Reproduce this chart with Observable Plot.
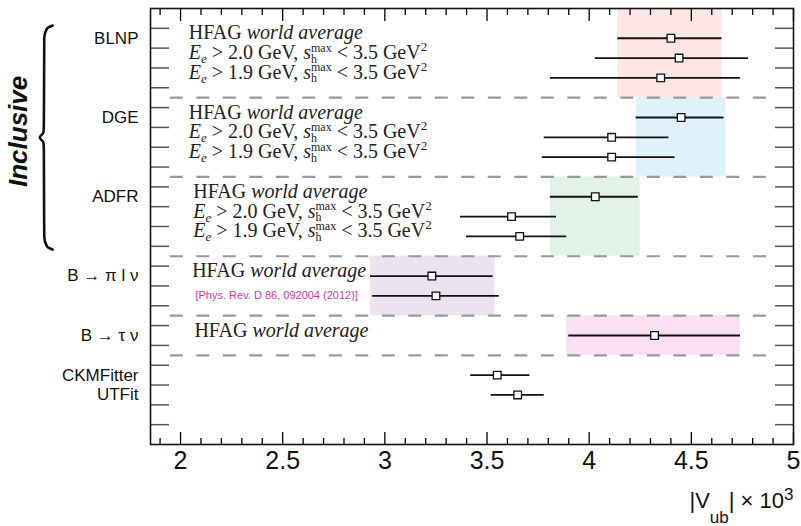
<!DOCTYPE html>
<html><head><meta charset="utf-8">
<script src="https://cdn.jsdelivr.net/npm/d3@7"></script>
<script src="https://cdn.jsdelivr.net/npm/@observablehq/plot@0.6"></script>
<style>
body{margin:0;background:#fff;}
svg text{white-space:pre;}
</style>
</head><body><div id="chart"></div>
<script>
// ---- categories (left labels) ----
const categories = ["BLNP", "DGE", "ADFR", "B → π l ν", "B → τ ν", "CKMFitter", "UTFit"];
const categoryRows = [1.5, 5.5, 9.5, 13.5, 16.5, 18.5, 19.5];

// ---- measurements: |Vub| x 10^3 ----
const measRows    = [1.5, 2.5, 3.5, 5.5, 6.5, 7.5, 9.5, 10.5, 11.5, 13.5, 14.5, 16.5, 18.5, 19.5];
const measCentral = [4.40, 4.44, 4.35, 4.45, 4.11, 4.11, 4.03, 3.62, 3.66, 3.23, 3.25, 4.32, 3.55, 3.65];
const measLow     = [4.14, 4.03, 3.81, 4.23, 3.78, 3.77, 3.81, 3.37, 3.40, 2.93, 2.94, 3.90, 3.42, 3.52];
const measHigh    = [4.65, 4.78, 4.74, 4.66, 4.39, 4.42, 4.24, 3.84, 3.89, 3.53, 3.56, 4.74, 3.71, 3.78];

// ---- world-average bands ----
const bandLow    = [4.14, 4.23, 3.81, 2.93, 3.89];
const bandHigh   = [4.65, 4.67, 4.25, 3.54, 4.74];
const bandTop    = [0, 4.5, 8.5, 12.5, 15.5];
const bandBottom = [4.5, 8.5, 12.5, 15.5, 17.5];
const bandColors = ["#fde6e3", "#dff1fa", "#e1f2e7", "#ebe3ef", "#fbe0f1"];

// ---- dashed separators ----
const separators = [4.5, 8.5, 12.5, 15.5, 17.5];
const sepFrom = 1.95, sepTo = 4.875;

// ---- annotations inside the plot ----
const noteRows  = [1.5, 2.5, 3.5, 5.5, 6.5, 7.5, 9.5, 10.5, 11.5, 13.5, 16.5];
const noteX     = [2.04, 2.04, 2.04, 2.04, 2.04, 2.04, 2.062, 2.062, 2.062, 2.057, 2.068];
const noteTexts = ["HFAG world average", "E_e > 2.0 GeV, s_h^max < 3.5 GeV^2", "E_e > 1.9 GeV, s_h^max < 3.5 GeV^2",
                   "HFAG world average", "E_e > 2.0 GeV, s_h^max < 3.5 GeV^2", "E_e > 1.9 GeV, s_h^max < 3.5 GeV^2",
                   "HFAG world average", "E_e > 2.0 GeV, s_h^max < 3.5 GeV^2", "E_e > 1.9 GeV, s_h^max < 3.5 GeV^2",
                   "HFAG world average", "HFAG world average"];
const citation = ["[Phys. Rev. D 86, 092004 (2012)]"];
const citationRow = [14.5];
const citationX = [2.073];

// ---- axes ----
const xMajorTicks = [2, 2.5, 3, 3.5, 4, 4.5, 5];
const xMinorTicks = [1.9, 2.1, 2.2, 2.3, 2.4, 2.6, 2.7, 2.8, 2.9, 3.1, 3.2, 3.3, 3.4, 3.6, 3.7, 3.8, 3.9,
                     4.1, 4.2, 4.3, 4.4, 4.6, 4.7, 4.8, 4.9];
const yTicks = [1, 2, 3, 4, 5, 6, 7, 8, 9, 10, 11, 12, 13, 14, 15, 16, 17, 18, 19, 20, 21];
const xLabel = ["|V_ub| × 10^3"];

// ---- "Inclusive" brace ----
const braceX = [1.374, 1.346, 1.333, 1.331, 1.329, 1.311, 1.329, 1.331, 1.333, 1.346, 1.374];
const braceY = [0.86, 1.02, 1.5, 5.9, 6.25, 6.51, 6.77, 7.12, 11.5, 12.0, 12.16];
const groupLabel = ["Inclusive"];
const groupX = [1.21], groupY = [6.2];

// build tables
const meas = measRows.map((y, i) => ({y, c: measCentral[i], lo: measLow[i], hi: measHigh[i]}));
const bands = bandLow.map((lo, i) => ({lo, hi: bandHigh[i], top: bandTop[i], bottom: bandBottom[i], color: bandColors[i]}));
const notes = noteRows.map((y, i) => ({y, x: noteX[i], t: noteTexts[i]}));
const brace = braceX.map((x, i) => ({x, y: braceY[i]}));

const SANS = "'Liberation Sans', Arial, Helvetica, sans-serif";
const SERIF = "'Liberation Serif', 'Times New Roman', serif";

const svg = Plot.plot({
  width: 801, height: 526,
  marginLeft: 150, marginRight: 8, marginTop: 8, marginBottom: 82,
  style: {fontFamily: SANS, background: "white", overflow: "visible"},
  x: {domain: [1.853, 5], label: null},
  y: {domain: [0, 22], reverse: true, label: null},
  marks: [
    Plot.rect(bands, {x1: "lo", x2: "hi", y1: "top", y2: "bottom", fill: "color"}),
    Plot.ruleY(separators, {y: d => d, x1: sepFrom, x2: sepTo, stroke: "#999", strokeWidth: 2.2, strokeDasharray: "13,13.5"}),
    Plot.ruleY(meas, {y: "y", x1: "lo", x2: "hi", stroke: "#111", strokeWidth: 1.8}),
    Plot.dot(meas, {x: "c", y: "y", symbol: "square", r: 4.3, fill: "white", stroke: "#111", strokeWidth: 1.3}),
    // axes: ticks inward
    Plot.axisX(xMajorTicks, {anchor: "bottom", tickSize: -12, tickFormat: () => "", strokeWidth: 1.3}),
    Plot.axisX(xMinorTicks, {anchor: "bottom", tickSize: -6, tickFormat: () => "", strokeWidth: 1.3}),
    Plot.axisX(xMajorTicks, {anchor: "top", tickSize: -12, tickFormat: () => "", strokeWidth: 1.3}),
    Plot.axisX(xMinorTicks, {anchor: "top", tickSize: -6, tickFormat: () => "", strokeWidth: 1.3}),
    Plot.axisX(xMajorTicks, {anchor: "bottom", tickSize: 0, tickPadding: 7, fontSize: 25, tickFormat: d => String(d), fill: "#111"}),
    Plot.axisY(yTicks, {anchor: "left", tickSize: -19, tickFormat: () => "", stroke: "#555", strokeWidth: 1.5}),
    Plot.axisY(yTicks, {anchor: "right", tickSize: -19, tickFormat: () => "", stroke: "#555", strokeWidth: 1.5}),
    Plot.frame({stroke: "#111", strokeWidth: 1.6}),
    // category labels
    Plot.text(categories, {y: (d, i) => categoryRows[i], text: d => d, frameAnchor: "left", textAnchor: "end", dx: -12, fontSize: 17, fill: "#111"}),
    // annotations
    Plot.text(notes, {x: "x", y: "y", text: "t", textAnchor: "start", lineAnchor: "bottom", dy: 1, fontSize: 20, fontFamily: SERIF, fill: "#222"}),
    Plot.text(citation, {x: (d, i) => citationX[i], y: (d, i) => citationRow[i], text: d => d, textAnchor: "start", lineAnchor: "middle", fontSize: 11, fill: "#d6379b"}),
    // axis label
    Plot.text(xLabel, {frameAnchor: "bottom-right", text: d => d, textAnchor: "end", lineAnchor: "bottom", dy: 63, fontSize: 22, fill: "#111"}),
    // brace + group label
    Plot.line(brace, {x: "x", y: "y", curve: "monotone-y", stroke: "#111", strokeWidth: 2.6}),
    Plot.text(groupLabel, {x: (d, i) => groupX[i], y: (d, i) => groupY[i], text: d => d, rotate: -90, fontSize: 26, fontWeight: "bold", fontStyle: "italic", fill: "#111"})
  ]
});

// rich text: italics, sub/superscripts
d3.select(svg).selectAll("text").each(function() {
  const s = this.textContent;
  const t = d3.select(this);
  if (s === "HFAG world average") {
    t.text(null);
    t.append("tspan").text("HFAG ");
    t.append("tspan").attr("font-style", "italic").text("world average");
  } else if (s.startsWith("E_e")) {
    const m = s.match(/E_e > ([\d.]+) GeV, s_h\^max < ([\d.]+) GeV\^2/);
    t.text(null);
    t.append("tspan").attr("font-style", "italic").text("E");
    t.append("tspan").attr("font-style", "italic").attr("font-size", 13).attr("dy", 4).text("e");
    t.append("tspan").attr("dy", -4).text(" > " + m[1] + " GeV, ");
    t.append("tspan").attr("font-style", "italic").text("s");
    t.append("tspan").attr("font-size", 12).attr("dy", 3.5).text("h");
    t.append("tspan").attr("font-size", 12).attr("dx", -6).attr("dy", -11).text("max");
    t.append("tspan").attr("dy", 7.5).text(" < " + m[2] + " GeV");
    t.append("tspan").attr("font-size", 13).attr("dy", -8).text("2");
  } else if (s === "|V_ub| × 10^3") {
    t.text(null);
    t.append("tspan").text("|V");
    t.append("tspan").attr("font-size", 17).attr("dy", 15).text("ub");
    t.append("tspan").attr("dy", -15).text("| × 10");
    t.append("tspan").attr("font-size", 17).attr("dy", -8).text("3");
  }
});

document.getElementById("chart").append(svg);
</script>
</body></html>
